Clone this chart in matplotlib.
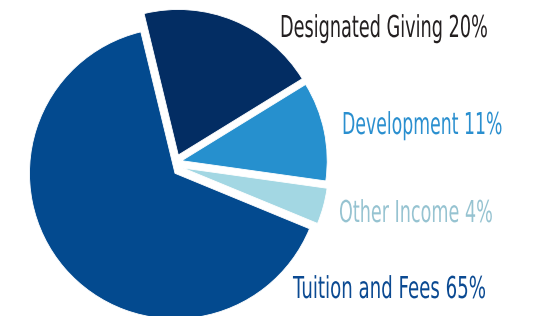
import matplotlib
matplotlib.use("Agg")
import matplotlib.pyplot as plt
from matplotlib.patheffects import AbstractPathEffect
from matplotlib.transforms import Affine2D

labels = ["Designated Giving", "Development", "Other Income", "Tuition and Fees"]
values = [20, 11, 4, 65]
colors = ["#032d63", "#2690ce", "#a3d7e3", "#034a8f"]
text_colors = ["#231f20", "#2a8fcf", "#96c3d1", "#0b4a92"]

W, H = 537, 316
fig = plt.figure(figsize=(W / 100, H / 100), dpi=100)
ax = fig.add_axes([0, 0, 1, 1])
R = 145.5
cx, cy = 178.0, 164.0

wedges, _ = ax.pie(values, colors=colors, startangle=103.6, counterclock=False,
                   radius=1.0, center=(0, 0),
                   wedgeprops=dict(edgecolor="white", linewidth=0.6), frame=True)
# each slice is pulled apart slightly (slice tips in image pixels)
tips_px = [(178.3, 155.0), (181.7, 160.7), (183.0, 168.0), (175.0, 173.3)]
for w, (tx, ty) in zip(wedges, tips_px):
    w.set_center(((tx - cx) / R, (cy - ty) / R))

ax.set_xlim(-cx / R, (W - cx) / R)
ax.set_ylim(-(H - cy) / R, cy / R)
ax.axis("off")


class Stretch(AbstractPathEffect):
    """Stretch glyphs vertically around the baseline (display coords)."""
    def __init__(self, sy, x0, y0):
        super().__init__()
        self.sy, self.x0, self.y0 = sy, x0, y0

    def draw_path(self, renderer, gc, tpath, affine, rgbFace=None):
        a = affine + Affine2D().translate(-self.x0, -self.y0).scale(1.0, self.sy).translate(self.x0, self.y0)
        renderer.draw_path(gc, tpath, a, rgbFace)


# label positions: (left px, baseline px, right px)
pos = [(280, 37, 487), (342, 134, 502), (339, 222, 492), (293, 298, 485)]
cap_px = 22.0
texts = []
for lab, v, c, (x0, yb, x1) in zip(labels, values, text_colors, pos):
    t = fig.text(x0 / W, 1 - yb / H, f"{lab} {v}%", color=c, fontsize=12,
                 family="DejaVu Sans", ha="left", va="baseline")
    texts.append((t, x0, yb, x1 - x0))

fig.canvas.draw()
r = fig.canvas.get_renderer()
for t, x0, yb, target in texts:
    w = t.get_window_extent(r).width
    fs = 12 * target / w
    t.set_fontsize(fs)
    fs_px = fs * 100 / 72
    sy = cap_px / (0.729 * fs_px)
    t.set_path_effects([Stretch(sy, x0, H - yb)])

fig.savefig("out.png", dpi=100)
